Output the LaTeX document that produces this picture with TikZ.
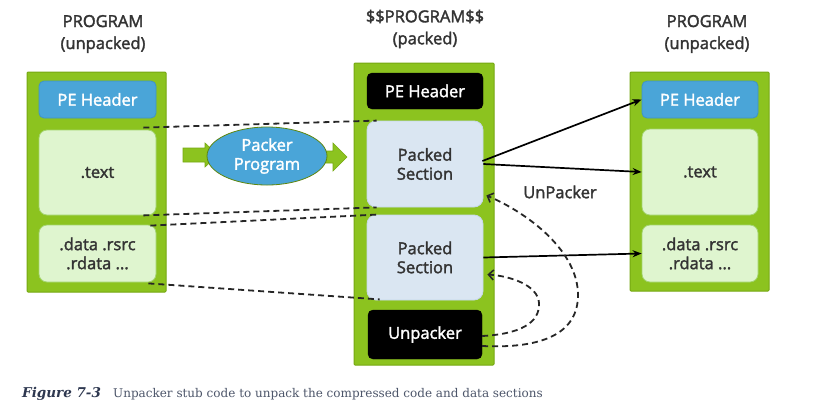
\documentclass[tikz,border=0pt]{standalone}
\usepackage{fontspec}
\setmainfont{Open Sans}[FakeBold=2]
\newfontfamily\capfont{DejaVu Serif}
\usetikzlibrary{arrows.meta,shapes.geometric,calc}
\definecolor{grn}{HTML}{8CC31F}
\definecolor{grnd}{HTML}{76A812}
\definecolor{lgrn}{HTML}{DFF5CF}
\definecolor{lgrnd}{HTML}{A3D46E}
\definecolor{blu}{HTML}{4AA5D8}
\definecolor{blud}{HTML}{3F93C4}
\definecolor{pk}{HTML}{DAE6F2}
\definecolor{pkd}{HTML}{C6D8EA}
\definecolor{txt}{HTML}{333333}
\definecolor{capc}{HTML}{2E3850}
\tikzset{
  x=1pt,y=-1pt,
  fnt/.style={font=\fontsize{16.5}{22}\selectfont},
  lbl/.style={fnt,text=txt,align=center},
  outer/.style={draw=grnd,fill=grn,line width=1pt,rounded corners=1pt,inner sep=0pt},
  pebox/.style={draw=blud,fill=blu,line width=0.8pt,rounded corners=5pt,inner sep=0pt,
     text=white,fnt},
  secbox/.style={draw=lgrnd,fill=lgrn,line width=0.8pt,rounded corners=8pt,inner sep=0pt,
     text=txt,fnt,align=center},
  pkbox/.style={draw=pkd,fill=pk,line width=0.8pt,rounded corners=9pt,inner sep=0pt,
     text=txt,fnt,align=center},
  blkbox/.style={draw=black,fill=black,rounded corners=5pt,inner sep=0pt,
     text=white,fnt},
  dsh/.style={draw=black!85,line width=1.8pt,dash pattern=on 6pt off 4pt},
  dsharr/.style={dsh,-{Straight Barb[length=5pt,width=10pt,line width=1.6pt]}},
  solarr/.style={draw=black,line width=1.7pt,-{Stealth[length=9pt,width=7pt]}},
  blockarr/.style={draw=grnd,fill=grn,line width=0.6pt},
}
\begin{document}
\begin{tikzpicture}
\useasboundingbox[fill=white] (0,0) rectangle (821,416);

% titles
\node[lbl] (t1) at (103,34) {PROGRAM\\(unpacked)};
\node[lbl] (t2) at (425,29) {\$\$PROGRAM\$\$\\(packed)};
\node[lbl] (t3) at (707,34) {PROGRAM\\(unpacked)};

% left program
\node[outer,minimum width=139pt,minimum height=220pt] (lbox) at (96.5,182) {};
\node[pebox,minimum width=117pt,minimum height=37pt] (lpe) at (97.5,99.5) {PE Header};
\node[secbox,minimum width=117pt,minimum height=85pt] (ltext) at (97.5,172.5) {.text};
\node[secbox,minimum width=117pt,minimum height=57pt] (ldata) at (97.5,253.5) {.data .rsrc\\[-3pt].rdata ...};

% middle packed program
\node[outer,minimum width=140pt,minimum height=302pt] (mbox) at (424,214) {};
\node[blkbox,minimum width=116pt,minimum height=36pt] (mpe) at (425,91) {PE Header};
\node[pkbox,minimum width=116pt,minimum height=86pt] (pk1) at (425,164) {Packed\\[-3pt]Section};
\node[pkbox,minimum width=116pt,minimum height=85pt] (pk2) at (425,257.5) {Packed\\[-3pt]Section};
\node[blkbox,minimum width=114pt,minimum height=49pt] (unp) at (425,334.5) {Unpacker};

% right program
\node[outer,minimum width=139pt,minimum height=219pt] (rbox) at (699.5,181.5) {};
\node[pebox,minimum width=116pt,minimum height=37pt] (rpe) at (700,99.5) {PE Header};
\node[secbox,minimum width=116pt,minimum height=86pt] (rtext) at (700,172) {.text};
\node[secbox,minimum width=116pt,minimum height=57pt] (rdata) at (700,253.5) {.data .rsrc\\[-3pt].rdata ...};

% packer block arrows and ellipse
\coordinate (a1) at (183,155);
\coordinate (a2) at (312,157);
\draw[blockarr] (a1) ++(0,-7) -- ++(22,0) -- ++(0,-5) -- ++(13,12) -- ++(-13,12) -- ++(0,-5) -- ++(-22,0) -- cycle;
\draw[blockarr] (a2) ++(0,-6) -- ++(21,0) -- ++(0,-8) -- ++(14,14) -- ++(-14,14) -- ++(0,-8) -- ++(-21,0) -- cycle;
\node[ellipse,draw=grnd!80!black,fill=blu,line width=0.8pt,minimum width=120pt,minimum height=58pt,inner sep=0pt,
      text=white,font=\fontsize{16.5}{19}\selectfont,align=center] (packer) at (267,156) {Packer\\Program};

% dashed mapping lines
\draw[dsh] ($(ltext.north east)+(-13,-2)$) -- ($(pk1.north west)+(10,0)$);
\draw[dsh] ($(ltext.south east)+(-13,0)$) -- ($(pk1.south west)+(10,0)$);
\draw[dsh] ($(ldata.north east)+(-6,1)$) -- ($(pk2.north west)+(10,0)$);
\draw[dsh] ($(ldata.south east)+(-8,1)$) -- ($(pk2.south west)+(13,-1)$);

% solid arrows
\draw[solarr] ($(pk1.east)+(-1,-3)$) -- (rpe.west);
\draw[solarr] (pk1.east) -- (rtext.west);
\draw[solarr] (pk2.east) -- (rdata.west);

% unpacker dashed arrows
\coordinate (uo) at ($(unp.east)+(0,11.5)$);
\coordinate (ui) at ($(unp.east)+(0,1.5)$);
\coordinate (po) at ($(pk1.south east)+(3,-12)$);
\coordinate (pi) at ($(pk2.east)+(4,17)$);
\draw[dsharr] (uo) .. controls (545,349) and (578,332) .. (578,295)
   .. controls (578,252) and (530,214) .. (po);
\draw[dsharr] (ui) .. controls (520,334) and (540,323) .. (539,303)
   .. controls (538,285) and (510,276) .. (pi);
\node[fnt,text=txt] (ulbl) at (560,192) {UnPacker};

% caption
\node[anchor=base west,inner sep=0pt,font=\capfont\fontsize{13.5}{16}\selectfont\bfseries\itshape,text=capc] (fig) at (22,397) {Figure 7-3};
\node[anchor=base west,inner sep=0pt,font=\capfont\fontsize{12}{16}\selectfont,text=capc!85!white] (cap) at (113,397) {Unpacker stub code to unpack the compressed code and data sections};
\end{tikzpicture}
\end{document}
